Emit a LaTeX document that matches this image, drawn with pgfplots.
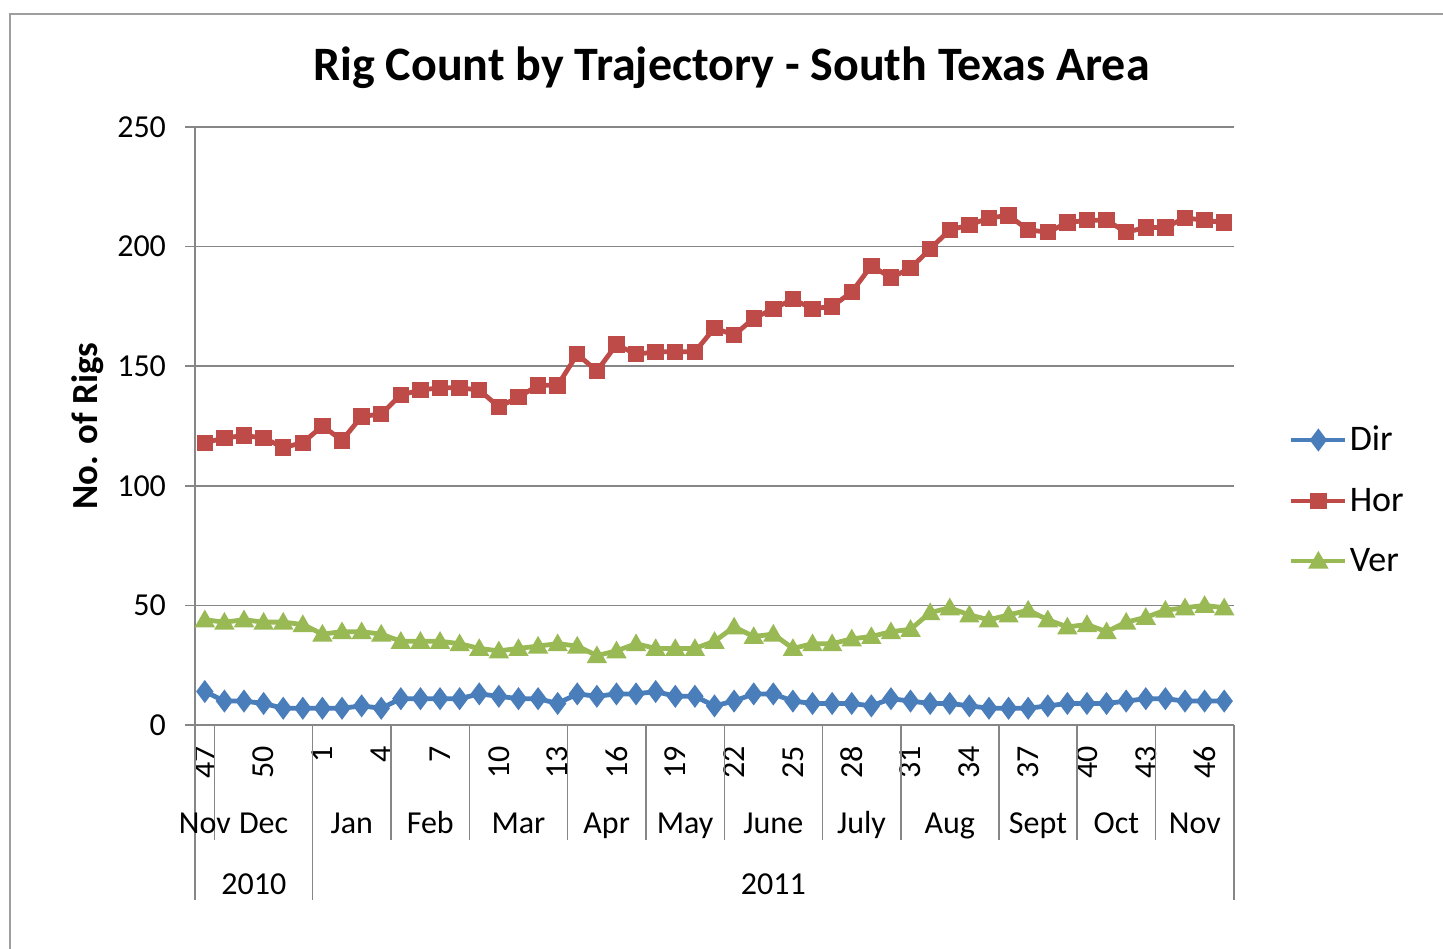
\documentclass[border=0pt]{standalone}
\usepackage{pgfplots}
\pgfplotsset{compat=1.18}
\usepackage{fontspec}
\setmainfont{Carlito}
\definecolor{cDir}{HTML}{4A7EBB}
\definecolor{cHor}{HTML}{BE4B48}
\definecolor{cVer}{HTML}{98B954}
\definecolor{gridc}{HTML}{868686}
\begin{document}
\begin{tikzpicture}[x=1pt,y=1pt]
\useasboundingbox (0,0) rectangle (721.5,474);
\draw[color=gridc!80, line width=0.8pt] (5,-2) -- (5,467) -- (724,467);
\node[anchor=base, font=\fontsize{24}{28}\selectfont\bfseries] at (365.75,433.5) {Rig Count by Trajectory - South Texas Area};
\begin{axis}[
  at={(97.5pt,111.5pt)}, anchor=south west,
  scale only axis, width=519.5pt, height=299pt,
  xmin=-0.5, xmax=52.5, ymin=0, ymax=250,
  axis x line*=bottom, axis y line*=left,
  axis line style={gridc, line width=0.8pt, -},
  ytick={0,50,...,250}, ymajorgrids, grid style={gridc, line width=0.8pt},
  ytick style={gridc, line width=0.8pt}, tick align=outside, major tick length=5pt,
  xtick={0,3,...,51},
  xticklabels={47,50,1,4,7,10,13,16,19,22,25,28,31,34,37,40,43,46},
  xtick style={draw=none},
  xticklabel style={rotate=90, anchor=east, font=\fontsize{16}{19}\selectfont, xshift=-2pt},
  yticklabel style={font=\fontsize{16}{19}\selectfont, xshift=-6pt},
  /pgf/number format/assume math mode=true,
  ylabel={\textbf{No. of Rigs}},
  ylabel style={font=\fontsize{18.4}{22}\selectfont, at={(axis description cs:-0.103,0.5)}, anchor=center},
  clip=false,
  legend style={draw=none, fill=none, at={(1.0525,0.376)}, anchor=west, font=\fontsize{18}{22}\selectfont, row sep=15pt, inner sep=0pt, nodes={inner sep=1pt}},
  legend cell align=left,
  legend image code/.code={\draw[mark repeat=2,mark phase=2,#1] plot coordinates {(0pt,0pt) (13.5pt,0pt) (27pt,0pt)};},
]
\addplot[cDir, line width=2.4pt, mark=diamond*, mark size=3.8pt, mark options={solid}] coordinates {
(0,14)(1,10)(2,10)(3,9)(4,7)(5,7)(6,7)(7,7)(8,8)(9,7)(10,11)(11,11)(12,11)(13,11)(14,13)(15,12)(16,11)(17,11)(18,9)(19,13)(20,12)(21,13)(22,13)(23,14)(24,12)(25,12)(26,8)(27,10)(28,13)(29,13)(30,10)(31,9)(32,9)(33,9)(34,8)(35,11)(36,10)(37,9)(38,9)(39,8)(40,7)(41,7)(42,7)(43,8)(44,9)(45,9)(46,9)(47,10)(48,11)(49,11)(50,10)(51,10)(52,10)};
\addlegendentry{Dir}
\addplot[cHor, line width=2.4pt, mark=square*, mark size=2.9pt, mark options={solid}] coordinates {
(0,118)(1,120)(2,121)(3,120)(4,116)(5,118)(6,125)(7,119)(8,129)(9,130)(10,138)(11,140)(12,141)(13,141)(14,140)(15,133)(16,137)(17,142)(18,142)(19,155)(20,148)(21,159)(22,155)(23,156)(24,156)(25,156)(26,166)(27,163)(28,170)(29,174)(30,178)(31,174)(32,175)(33,181)(34,192)(35,187)(36,191)(37,199)(38,207)(39,209)(40,212)(41,213)(42,207)(43,206)(44,210)(45,211)(46,211)(47,206)(48,208)(49,208)(50,212)(51,211)(52,210)};
\addlegendentry{Hor}
\addplot[cVer, line width=2.4pt, mark=triangle*, mark size=3.5pt, mark options={solid, yshift=-0.8pt}] coordinates {
(0,44)(1,43)(2,44)(3,43)(4,43)(5,42)(6,38)(7,39)(8,39)(9,38)(10,35)(11,35)(12,35)(13,34)(14,32)(15,31)(16,32)(17,33)(18,34)(19,33)(20,29)(21,31)(22,34)(23,32)(24,32)(25,32)(26,35)(27,41)(28,37)(29,38)(30,32)(31,34)(32,34)(33,36)(34,37)(35,39)(36,40)(37,47)(38,49)(39,46)(40,44)(41,46)(42,48)(43,44)(44,41)(45,42)(46,39)(47,43)(48,45)(49,48)(50,49)(51,50)(52,49)};
\addlegendentry{Ver}
% category separators
\pgfplotsinvokeforeach{0.5,9.5,13.5,18.5,22.5,26.5,31.5,35.5,40.5,44.5,48.5}{
  \draw[gridc, line width=0.8pt] (axis cs:#1,0) -- ([yshift=-57.5pt]axis cs:#1,0);
}
\pgfplotsinvokeforeach{-0.5,5.5,52.5}{
  \draw[gridc, line width=0.8pt] (axis cs:#1,0) -- ([yshift=-87.5pt]axis cs:#1,0);
}
% month labels
\node[font=\fontsize{16}{19}\selectfont, anchor=base] at ([yshift=-54pt]axis cs:0,0) {Nov};
\node[font=\fontsize{16}{19}\selectfont, anchor=base] at ([yshift=-54pt]axis cs:3,0) {Dec};
\node[font=\fontsize{16}{19}\selectfont, anchor=base] at ([yshift=-54pt]axis cs:7.5,0) {Jan};
\node[font=\fontsize{16}{19}\selectfont, anchor=base] at ([yshift=-54pt]axis cs:11.5,0) {Feb};
\node[font=\fontsize{16}{19}\selectfont, anchor=base] at ([yshift=-54pt]axis cs:16,0) {Mar};
\node[font=\fontsize{16}{19}\selectfont, anchor=base] at ([yshift=-54pt]axis cs:20.5,0) {Apr};
\node[font=\fontsize{16}{19}\selectfont, anchor=base] at ([yshift=-54pt]axis cs:24.5,0) {May};
\node[font=\fontsize{16}{19}\selectfont, anchor=base] at ([yshift=-54pt]axis cs:29,0) {June};
\node[font=\fontsize{16}{19}\selectfont, anchor=base] at ([yshift=-54pt]axis cs:33.5,0) {July};
\node[font=\fontsize{16}{19}\selectfont, anchor=base] at ([yshift=-54pt]axis cs:38,0) {Aug};
\node[font=\fontsize{16}{19}\selectfont, anchor=base] at ([yshift=-54pt]axis cs:42.5,0) {Sept};
\node[font=\fontsize{16}{19}\selectfont, anchor=base] at ([yshift=-54pt]axis cs:46.5,0) {Oct};
\node[font=\fontsize{16}{19}\selectfont, anchor=base] at ([yshift=-54pt]axis cs:50.5,0) {Nov};
\node[font=\fontsize{16}{19}\selectfont, anchor=base] at ([yshift=-84.5pt]axis cs:2.5,0) {2010};
\node[font=\fontsize{16}{19}\selectfont, anchor=base] at ([yshift=-84.5pt]axis cs:29,0) {2011};
\end{axis}
\end{tikzpicture}
\end{document}
